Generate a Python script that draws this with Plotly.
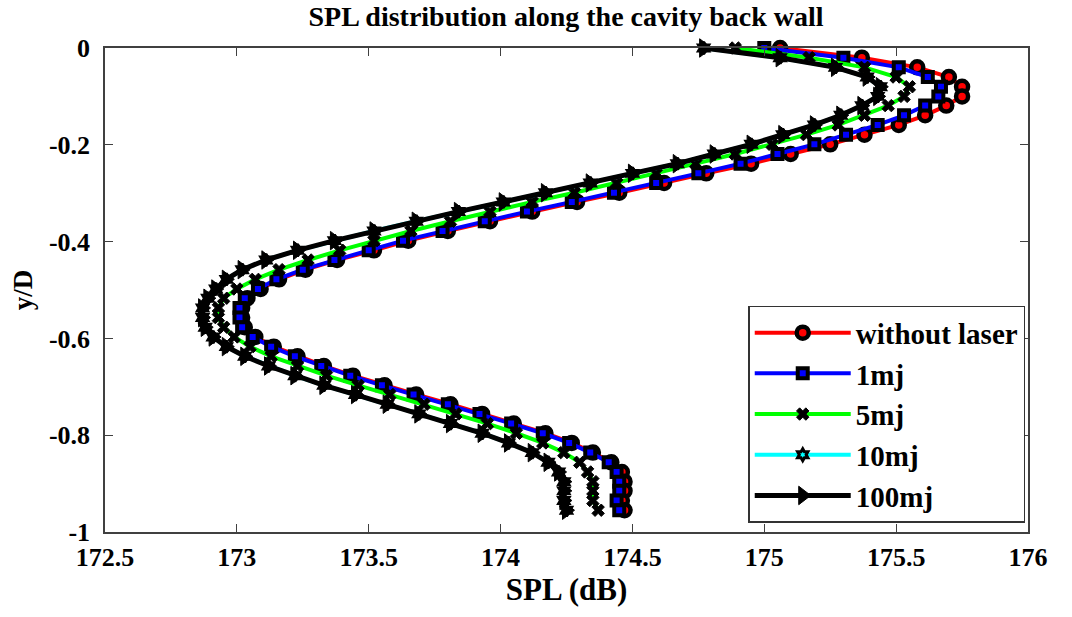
import plotly.graph_objects as go

y_d = [0, -0.020, -0.040, -0.060, -0.080, -0.100, -0.119, -0.139, -0.159, -0.179,
       -0.199, -0.219, -0.239, -0.259, -0.279, -0.299, -0.318, -0.338, -0.358, -0.378,
       -0.398, -0.418, -0.438, -0.458, -0.478, -0.498, -0.517, -0.537, -0.557, -0.577,
       -0.597, -0.617, -0.637, -0.657, -0.677, -0.697, -0.716, -0.736, -0.756, -0.776,
       -0.796, -0.816, -0.836, -0.856, -0.876, -0.896, -0.915, -0.935, -0.955]

spl_without = [175.06, 175.37, 175.58, 175.70, 175.75, 175.75, 175.69, 175.61, 175.51, 175.38,
               175.25, 175.10, 174.95, 174.78, 174.62, 174.45, 174.29, 174.12, 173.96, 173.80,
               173.65, 173.52, 173.38, 173.26, 173.16, 173.09, 173.04, 173.02, 173.02, 173.03,
               173.07, 173.14, 173.23, 173.33, 173.44, 173.56, 173.68, 173.81, 173.93, 174.05,
               174.17, 174.27, 174.35, 174.42, 174.46, 174.47, 174.47, 174.46, 174.47]

spl_1mj = [175.00, 175.30, 175.51, 175.62, 175.67, 175.66, 175.61, 175.53, 175.43, 175.31,
           175.19, 175.05, 174.91, 174.75, 174.59, 174.43, 174.27, 174.10, 173.94, 173.78,
           173.63, 173.50, 173.37, 173.25, 173.15, 173.08, 173.03, 173.01, 173.01, 173.02,
           173.06, 173.13, 173.22, 173.32, 173.43, 173.55, 173.67, 173.80, 173.92, 174.04,
           174.16, 174.26, 174.34, 174.41, 174.44, 174.45, 174.45, 174.44, 174.45]

spl_5mj = [174.89, 175.17, 175.38, 175.50, 175.55, 175.53, 175.47, 175.38, 175.28, 175.16,
           175.03, 174.89, 174.74, 174.59, 174.44, 174.28, 174.12, 173.96, 173.81, 173.66,
           173.52, 173.39, 173.27, 173.16, 173.07, 173.00, 172.95, 172.93, 172.93, 172.95,
           172.99, 173.05, 173.13, 173.23, 173.34, 173.46, 173.58, 173.71, 173.83, 173.95,
           174.06, 174.16, 174.24, 174.30, 174.33, 174.35, 174.35, 174.35, 174.37]

spl_10mj = [174.77, 175.06, 175.27, 175.39, 175.44, 175.43, 175.37, 175.29, 175.19, 175.07,
            174.95, 174.81, 174.67, 174.50, 174.34, 174.17, 174.01, 173.84, 173.68, 173.52,
            173.37, 173.23, 173.11, 173.02, 172.96, 172.92, 172.89, 172.87, 172.87, 172.88,
            172.91, 172.96, 173.03, 173.12, 173.22, 173.33, 173.45, 173.57, 173.69, 173.81,
            173.93, 174.03, 174.12, 174.18, 174.22, 174.24, 174.24, 174.24, 174.25]

spl_100mj = [174.77, 175.06, 175.27, 175.39, 175.44, 175.43, 175.37, 175.29, 175.19, 175.07,
             174.95, 174.81, 174.67, 174.50, 174.34, 174.17, 174.01, 173.84, 173.68, 173.52,
             173.37, 173.23, 173.11, 173.02, 172.96, 172.92, 172.89, 172.87, 172.87, 172.88,
             172.91, 172.96, 173.03, 173.12, 173.22, 173.33, 173.45, 173.57, 173.69, 173.81,
             173.93, 174.03, 174.12, 174.18, 174.22, 174.24, 174.24, 174.24, 174.25]

x_ticks = [172.5, 173, 173.5, 174, 174.5, 175, 175.5, 176]
x_tick_text = ["172.5", "173", "173.5", "174", "174.5", "175", "175.5", "176"]
y_ticks = [0, -0.2, -0.4, -0.6, -0.8, -1]
y_tick_text = ["0", "-0.2", "-0.4", "-0.6", "-0.8", "-1"]

FONT = "Liberation Serif"

series = [
    ("without laser", spl_without, "#ff0000", dict(symbol="circle", size=12, color="#ff0000", line=dict(color="black", width=4.5)), 4),
    ("1mj", spl_1mj, "#0000ff", dict(symbol="square", size=10, color="#0000ff", line=dict(color="black", width=4)), 4),
    ("5mj", spl_5mj, "#00ff00", dict(symbol="x", size=11, color="black", line=dict(color="black", width=1)), 4),
    ("10mj", spl_10mj, "#00ffff", dict(symbol="hexagram", size=9, color="#00ffff", line=dict(color="black", width=3)), 4),
    ("100mj", spl_100mj, "#000000", dict(symbol="triangle-right", size=16, color="black", line=dict(color="black", width=1)), 5),
]

fig = go.Figure()
for i, (name, xs, col, mk, lw) in enumerate(series):
    fig.add_trace(go.Scatter(
        x=xs, y=y_d, mode="lines+markers", name=name,
        line=dict(color=col, width=lw), marker=mk,
        legendgroup=f"g{i}", cliponaxis=False,
    ))

axis_common = dict(
    showline=True, linecolor="#404040", linewidth=1.5, mirror="ticks",
    ticks="inside", ticklen=8, tickwidth=1, tickcolor="#404040",
    showgrid=False, zeroline=False,
    tickfont=dict(family=FONT, size=26, color="black", weight="bold"),
)

fig.update_layout(
    width=1072, height=617,
    margin=dict(l=105, r=44, t=48, b=85),
    paper_bgcolor="white", plot_bgcolor="white",
    title=dict(text="SPL distribution along the cavity back wall",
               x=0.528, xanchor="center", y=0.973, yanchor="middle",
               font=dict(family=FONT, size=28, color="black", weight="bold")),
    xaxis=dict(range=[172.5, 176], tickvals=x_ticks, ticktext=x_tick_text,
               title=dict(text="SPL (dB)", standoff=4,
                          font=dict(family=FONT, size=31, color="black", weight="bold")),
               ticklabelstandoff=1, **axis_common),
    yaxis=dict(range=[-1, 0], tickvals=y_ticks, ticktext=y_tick_text,
               title=dict(text="y/D", standoff=8,
                          font=dict(family=FONT, size=27, color="black", weight="bold")),
               ticklabelstandoff=8, **axis_common),
    legend=dict(x=0.997, xanchor="right", y=0.019, yanchor="bottom",
                bgcolor="white", bordercolor="#333333", borderwidth=1.5,
                font=dict(family=FONT, size=29, color="black", weight="bold"),
                itemwidth=96, tracegroupgap=0),
    showlegend=True,
)

fig.write_html("out.html")
